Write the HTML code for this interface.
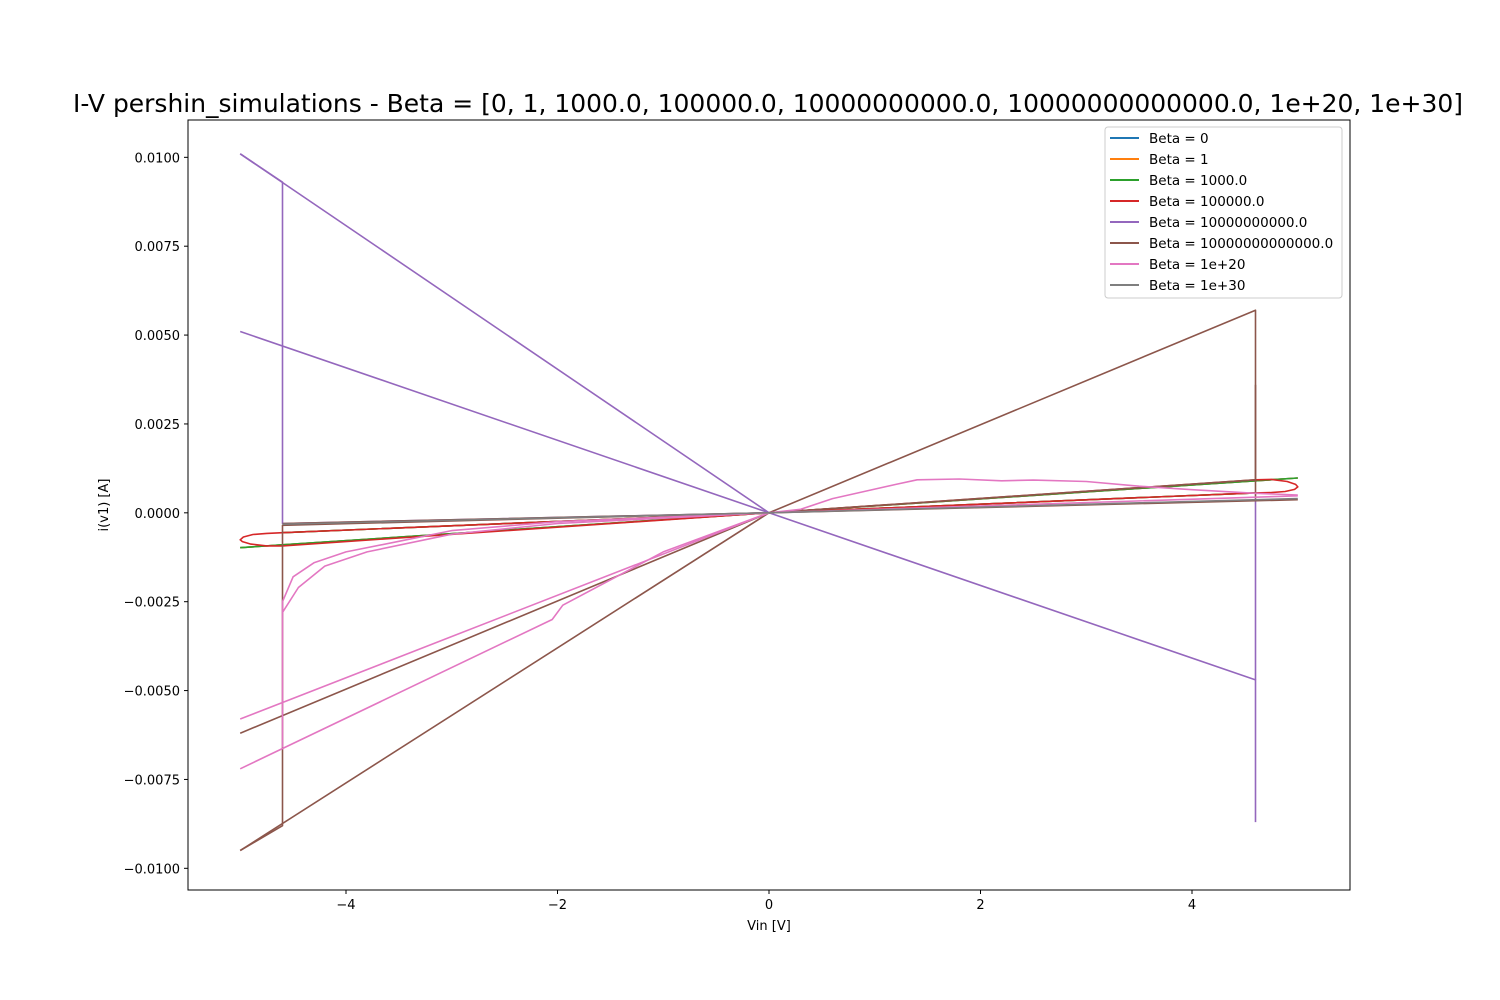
<!DOCTYPE html>
<html><head><meta charset="utf-8"><style>
html,body{margin:0;padding:0;background:#fff;}
svg{display:block;font-family:"DejaVu Sans","Liberation Sans",sans-serif;}
</style></head><body>
<svg id="chart" width="1500" height="1000" viewBox="0 0 1500 1000">
<rect width="1500" height="1000" fill="#fff"/>
<text x="73" y="112" font-size="25" textLength="1390" lengthAdjust="spacingAndGlyphs">I-V pershin_simulations - Beta = [0, 1, 1000.0, 100000.0, 10000000000.0, 10000000000000.0, 1e+20, 1e+30]</text>
<g id="plot"></g>
<g id="axes"></g>
<rect x="188" y="120" width="1162" height="770" fill="none" stroke="#000" stroke-width="1"/>
<text x="769" y="930" font-size="13" text-anchor="middle">Vin [V]</text>
<text transform="translate(108,505) rotate(-90)" font-size="13" text-anchor="middle">i(v1) [A]</text>
<g id="legend"></g>
</svg>
<script>
const xTicks=[-4,-2,0,2,4];
const xTickLabels=["\u22124","\u22122","0","2","4"];
const yTicks=[0.01,0.0075,0.005,0.0025,0,-0.0025,-0.005,-0.0075,-0.01];
const yTickLabels=["0.0100","0.0075","0.0050","0.0025","0.0000","\u22120.0025","\u22120.0050","\u22120.0075","\u22120.0100"];
const seriesNames=["Beta = 0","Beta = 1","Beta = 1000.0","Beta = 100000.0","Beta = 10000000000.0","Beta = 10000000000000.0","Beta = 1e+20","Beta = 1e+30"];
const seriesColors=["#1f77b4","#ff7f0e","#2ca02c","#d62728","#9467bd","#8c564b","#e377c2","#7f7f7f"];
const beta0=[[[-5,-0.00098],[-4.6,-0.0009],[0,0],[4.6,0.0009],[5,0.00098]],[[-4.6,-0.00056],[0,0],[4.6,0.00056]]];
const beta1=[[[-5,-0.00098],[-4.6,-0.0009],[0,0],[4.6,0.0009],[5,0.00098]],[[-4.6,-0.00056],[0,0],[4.6,0.00056]]];
const beta1000=[[[-5,-0.00098],[-4.6,-0.0009],[0,0],[4.6,0.0009],[5,0.00098]],[[-4.6,-0.00056],[0,0],[4.6,0.00056]]];
const beta1e5=[[[0,0],[4.6,0.00093],[4.75,0.00094],[4.9,0.00088],[4.98,0.0008],[5,0.00073],[4.97,0.00066],[4.88,0.0006],[4.75,0.00057],[4.6,0.00056],[0,0],[-4.6,-0.00093],[-4.75,-0.00093],[-4.9,-0.00088],[-4.98,-0.00081],[-5,-0.00076],[-4.97,-0.00068],[-4.88,-0.00061],[-4.75,-0.00058],[-4.6,-0.00056],[0,0]]];
const beta1e10=[[[-5,0.0101],[-4.6,0.0093],[-4.6,-0.0003],[0,0]],[[-5,0.0101],[0,0]],[[-5,0.0051],[0,0],[4.6,-0.0047],[4.6,-0.0087]],[[4.6,-0.0047],[4.6,0.0004]]];
const beta1e13=[[[-5,-0.0095],[-4.6,-0.0088],[-4.6,-0.00035],[0,0],[4.6,0.00093],[4.6,0.0057],[0,0],[-5,-0.0062]],[[-5,-0.0095],[0,0]],[[-4.6,-0.0003],[0,0],[5,0.00037]],[[4.6,0.0036],[4.6,0.0004]]];
const beta1e20=[[[-5,-0.0058],[0,0],[5,0.00048]],[[-5,-0.0072],[-2.05,-0.003],[-1.95,-0.0026],[-1,-0.0011],[0,0]],[[-4.6,-0.0066],[-4.6,-0.0025],[-4.5,-0.0018],[-4.3,-0.0014],[-4,-0.0011],[-3.5,-0.0008],[-3,-0.0005],[-2,-0.00025],[0,0]],[[-4.6,-0.0028],[-4.45,-0.0021],[-4.2,-0.0015],[-3.8,-0.0011],[-3,-0.0006],[-2,-0.0003],[0,0]],[[0,0],[0.3,0.0001],[0.6,0.0004],[0.9,0.0006],[1.2,0.0008],[1.4,0.00093],[1.8,0.00095],[2.2,0.0009],[2.5,0.00092],[3,0.00088],[3.5,0.00075],[4,0.00065],[4.6,0.00055],[5,0.0005]]];
const beta1e30=[[[-4.6,-0.00032],[0,0],[5,0.0004]]];
const allSeries=[beta0,beta1,beta1000,beta1e5,beta1e10,beta1e13,beta1e20,beta1e30];

const X0=188,X1=1350,Y0=120,Y1=890,xmin=-5.494,xmax=5.494,ymin=-0.01061,ymax=0.01105;
function sx(v){return X0+(v-xmin)/(xmax-xmin)*(X1-X0);}
function sy(v){return Y1-(v-ymin)/(ymax-ymin)*(Y1-Y0);}
const NS="http://www.w3.org/2000/svg";
function mk(t,p,parent){const e=document.createElementNS(NS,t);for(const k in p)e.setAttribute(k,p[k]);parent.appendChild(e);return e;}
const plot=document.getElementById('plot'),axes=document.getElementById('axes'),legend=document.getElementById('legend');
allSeries.forEach((s,i)=>{
  s.forEach((pl,j)=>{
    const d=pl.map((p,k)=>(k?'L':'M')+sx(p[0]).toFixed(1)+' '+sy(p[1]).toFixed(1)).join(' ');
    const path=mk('path',{d:d,fill:'none',stroke:seriesColors[i],'stroke-width':1.6,'stroke-linejoin':'round'},plot);
    
    
  });
});
xTicks.forEach((v,i)=>{
  const x=sx(v);
  const t=mk('line',{x1:x,x2:x,y1:Y1,y2:Y1+4,stroke:'#000'},axes);
  
  
  const l=mk('text',{x:x,y:Y1+19,'font-size':13,'text-anchor':'middle'},axes);l.textContent=xTickLabels[i];
  
  
});
yTicks.forEach((v,i)=>{
  const y=sy(v);
  const t=mk('line',{x1:X0-4,x2:X0,y1:y,y2:y,stroke:'#000'},axes);
  
  
  const l=mk('text',{x:X0-8,y:y+5,'font-size':13,'text-anchor':'end'},axes);l.textContent=yTickLabels[i];
  
  
});
const box=mk('rect',{x:1105,y:127,width:237,height:171,rx:3,fill:'#fff','fill-opacity':0.8,stroke:'#ccc'},legend);


seriesNames.forEach((n,i)=>{
  const y=138+i*21;
  const ln=mk('line',{x1:1110,x2:1139,y1:y,y2:y,stroke:seriesColors[i],'stroke-width':2},legend);
  
  
  const t=mk('text',{x:1149,y:y+5,'font-size':13.5},legend);t.textContent=n;
  
  
});
</script>
</body></html>
